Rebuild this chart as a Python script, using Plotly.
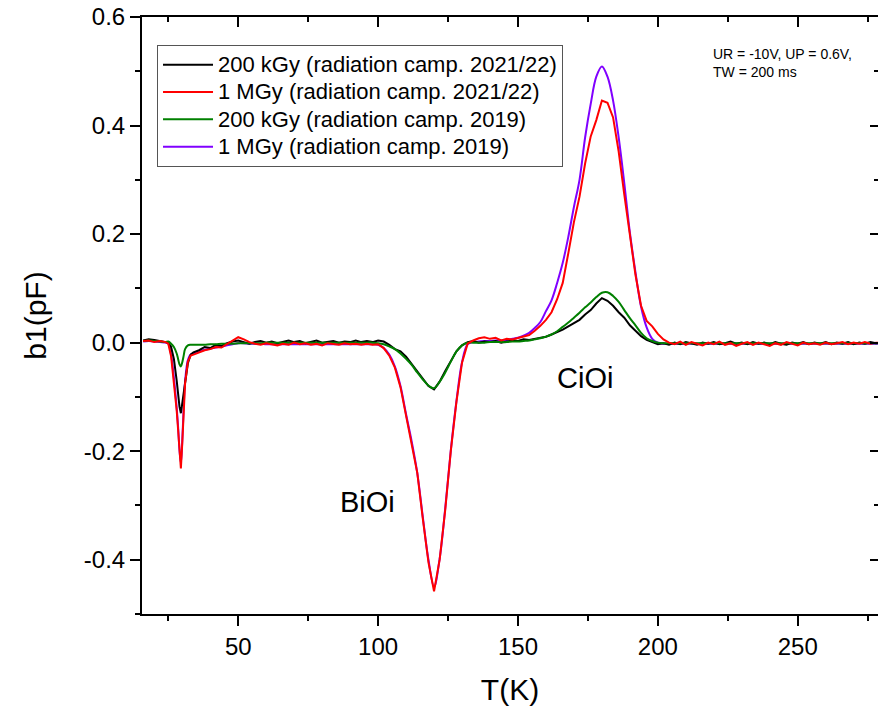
import plotly.graph_objects as go

# Temperature grid (K)
T = [16, 18, 20, 22, 24,
     25, 26, 27, 28, 28.5, 29, 29.5, 30, 30.5, 31, 32, 33, 34] + list(range(36, 281, 2))

# b1 (pF) values
B200K_2122 = [
    0.004, 0.006, 0.005, 0.003, 0.002,
    0.000, -0.008, -0.030, -0.070, -0.095, -0.118, -0.130, -0.112, -0.095, -0.070, -0.038, -0.022, -0.018,
    -0.014, -0.008, -0.010, -0.004, -0.006, -0.001, 0.002, 0.004, 0.001, -0.002,
    0.001, 0.003, 0.000, 0.002, -0.001, 0.001, 0.004, 0.001, 0.003, -0.001,
    0.002, 0.004, 0.000, 0.002, 0.003, 0.000, 0.002, 0.001, 0.004, 0.001,
    0.003, 0.001, 0.004, 0.002, -0.004, -0.012, -0.016, -0.026, -0.040, -0.054,
    -0.068, -0.080, -0.086, -0.072, -0.052, -0.033, -0.016, -0.005, 0.001, 0.003,
    0.000, 0.002, 0.001, 0.003, 0.000, 0.002, 0.004, 0.003, 0.006, 0.005,
    0.007, 0.009, 0.011, 0.015, 0.019, 0.024, 0.030, 0.036, 0.042, 0.052,
    0.060, 0.072, 0.082, 0.077, 0.068, 0.056, 0.046, 0.032, 0.022, 0.012,
    0.005, 0.001, -0.003, -0.001, -0.004, 0.000, -0.003, 0.001, -0.002, -0.004,
    0.000, -0.002, 0.001, -0.003, -0.001, 0.002, -0.002, 0.000, -0.003, 0.001,
    -0.002, 0.000, -0.003, 0.001, -0.002, -0.004, 0.000, -0.002, 0.001, -0.003,
    0.000, -0.002, 0.001, -0.003, 0.000, -0.002, 0.001, -0.003, 0.000, -0.002,
    0.001, -0.001, 0.000,
]

B1M_2122 = [
    0.003, 0.004, 0.001, 0.003, 0.001,
    -0.002, -0.025, -0.070, -0.125, -0.160, -0.205, -0.232, -0.185, -0.125, -0.075, -0.035, -0.024, -0.022,
    -0.018, -0.014, -0.012, -0.008, -0.009, -0.003, 0.004, 0.010, 0.006, 0.001,
    -0.002, -0.004, -0.001, -0.003, -0.005, -0.002, -0.004, 0.000, -0.003, -0.001,
    -0.004, -0.002, -0.005, -0.001, -0.003, -0.004, -0.001, -0.003, -0.002, -0.004,
    -0.002, -0.004, -0.003, -0.010, -0.024, -0.046, -0.082, -0.135, -0.182, -0.240,
    -0.325, -0.405, -0.458, -0.400, -0.308, -0.199, -0.109, -0.037, -0.002, 0.004,
    0.008, 0.010, 0.007, 0.009, 0.004, 0.007, 0.006, 0.009, 0.011, 0.014,
    0.022, 0.031, 0.042, 0.056, 0.080, 0.110, 0.165, 0.222, 0.269, 0.330,
    0.380, 0.410, 0.446, 0.442, 0.415, 0.352, 0.273, 0.195, 0.125, 0.068,
    0.040, 0.030, 0.016, 0.006, 0.000, -0.003, 0.002, -0.004, 0.001, -0.002,
    -0.005, 0.000, -0.003, 0.002, -0.004, -0.001, -0.006, -0.002, 0.001, -0.004,
    0.000, -0.003, -0.006, -0.001, -0.004, 0.001, -0.002, -0.005, 0.000, -0.003,
    -0.001, -0.004, 0.000, -0.003, -0.001, 0.001, -0.003, 0.000, -0.002, 0.001,
    -0.002, 0.000, -0.001,
]

B200K_2019 = [
    0.003, 0.004, 0.003, 0.002, 0.001,
    0.002, -0.002, -0.008, -0.020, -0.030, -0.040, -0.044, -0.036, -0.024, -0.012, -0.005, -0.004, -0.004,
    -0.004, -0.004, -0.003, -0.003, -0.002, -0.002, -0.002, -0.001, -0.001, -0.001,
    -0.001, -0.001, 0.000, 0.000, 0.000, 0.000, 0.000, 0.000, 0.000, 0.000,
    0.000, 0.000, 0.000, 0.000, 0.000, 0.000, 0.000, 0.000, 0.000, 0.000,
    0.000, 0.000, -0.001, -0.003, -0.007, -0.012, -0.020, -0.030, -0.041, -0.055,
    -0.068, -0.079, -0.084, -0.072, -0.055, -0.035, -0.016, -0.005, 0.000, 0.000,
    0.000, 0.000, 0.001, 0.001, 0.001, 0.001, 0.002, 0.002, 0.003, 0.004,
    0.006, 0.008, 0.011, 0.015, 0.021, 0.029, 0.037, 0.046, 0.055, 0.065,
    0.074, 0.084, 0.092, 0.093, 0.086, 0.075, 0.060, 0.045, 0.032, 0.018,
    0.008, 0.003, 0.000, -0.001, -0.001, -0.001, -0.001, -0.001, -0.001, -0.001,
    -0.001, -0.001, -0.001, -0.001, -0.001, -0.001, -0.001, -0.001, -0.001, -0.001,
    -0.001, -0.001, -0.001, -0.001, -0.001, -0.001, -0.001, -0.001, -0.001, -0.001,
    -0.001, -0.001, -0.001, -0.001, -0.001, -0.001, -0.001, -0.001, -0.001, -0.001,
    -0.001, -0.001, -0.001,
]

B1M_2019 = [
    0.002, 0.003, 0.002, 0.001, 0.000,
    -0.002, -0.022, -0.065, -0.120, -0.155, -0.198, -0.222, -0.180, -0.120, -0.072, -0.032, -0.022, -0.020,
    -0.016, -0.013, -0.011, -0.009, -0.007, -0.005, -0.003, -0.001, -0.001, -0.002,
    -0.002, -0.002, -0.003, -0.003, -0.003, -0.003, -0.003, -0.003, -0.003, -0.003,
    -0.003, -0.003, -0.003, -0.003, -0.003, -0.003, -0.003, -0.003, -0.003, -0.003,
    -0.003, -0.003, -0.004, -0.010, -0.022, -0.044, -0.080, -0.132, -0.182, -0.240,
    -0.322, -0.400, -0.450, -0.398, -0.305, -0.198, -0.108, -0.036, -0.003, 0.001,
    0.002, 0.003, 0.003, 0.004, 0.004, 0.005, 0.007, 0.009, 0.013, 0.018,
    0.027, 0.038, 0.058, 0.078, 0.110, 0.147, 0.195, 0.250, 0.300, 0.378,
    0.440, 0.490, 0.509, 0.490, 0.446, 0.378, 0.294, 0.203, 0.130, 0.066,
    0.028, 0.007, 0.000, -0.002, -0.002, -0.002, -0.002, -0.002, -0.002, -0.002,
    -0.002, -0.002, -0.002, -0.002, -0.002, -0.002, -0.002, -0.002, -0.002, -0.002,
    -0.002, -0.002, -0.002, -0.002, -0.002, -0.002, -0.002, -0.002, -0.002, -0.002,
    -0.002, -0.002, -0.002, -0.002, -0.002, -0.002, -0.002, -0.002, -0.002, -0.002,
    -0.002, -0.002, -0.002,
]

for s in (B200K_2122, B1M_2122, B200K_2019, B1M_2019):
    assert len(s) == len(T), (len(s), len(T))

NAMES = ["200 kGy (radiation camp. 2021/22)", "1 MGy (radiation camp. 2021/22)",
         "200 kGy (radiation camp. 2019)", "1 MGy (radiation camp. 2019)"]
COLORS = ["#000000", "#ff0000", "#008000", "#8000ff"]

X_TICKS = [50, 100, 150, 200, 250]
Y_TICKS = [-0.4, -0.2, 0.0, 0.2, 0.4, 0.6]
Y_TICKTEXT = ["-0.4", "-0.2", "0.0", "0.2", "0.4", "0.6"]
X_RANGE = [15.6, 278.7]
Y_RANGE = [-0.5, 0.6]

FONT = "Liberation Sans, Arial, sans-serif"

fig = go.Figure()
# draw order: purple, black, green, red (legend order via legendrank)
order = [(3, B1M_2019, "spline"), (0, B200K_2122, "linear"),
         (2, B200K_2019, "spline"), (1, B1M_2122, "linear")]
for idx, vals, shape in order:
    fig.add_trace(go.Scatter(
        x=T, y=vals, mode="lines",
        name='<span style="font-size:22px">' + NAMES[idx] + "</span>",
        line=dict(color=COLORS[idx], width=2, shape=shape),
        legendrank=idx + 1,
    ))
# dummy trace for the mirrored top/right axes
fig.add_trace(go.Scatter(x=[], y=[], xaxis="x2", yaxis="y2", showlegend=False))

axis_common = dict(showgrid=False, zeroline=False, linecolor="black", linewidth=2,
                   tickcolor="black", tickwidth=2, automargin=False)

fig.update_layout(
    width=878, height=711, autosize=False,
    margin=dict(l=142, r=0, t=17, b=97, pad=0, autoexpand=False),
    paper_bgcolor="white", plot_bgcolor="white",
    font=dict(family=FONT, color="black"),
    showlegend=True,
    legend=dict(x=0.0204, y=0.953, xanchor="left", yanchor="top",
                bordercolor="#555555", borderwidth=1, bgcolor="white",
                font=dict(size=18.7, family=FONT), itemwidth=50,
                tracegroupgap=0),
    xaxis=dict(range=X_RANGE, tickmode="array", tickvals=X_TICKS,
               ticks="outside", ticklen=10, showline=True,
               tickfont=dict(size=24),
               minor=dict(ticks="outside", ticklen=5, dtick=25, tick0=0,
                          tickcolor="black", tickwidth=2),
               title=dict(text="T(K)", font=dict(size=30), standoff=20),
               **axis_common),
    yaxis=dict(range=Y_RANGE, tickmode="array", tickvals=Y_TICKS, ticktext=Y_TICKTEXT,
               ticks="outside", ticklen=10, showline=True,
               tickfont=dict(size=24),
               minor=dict(ticks="outside", ticklen=5, dtick=0.1, tick0=0,
                          tickcolor="black", tickwidth=2),
               title=dict(text="b1(pF)", font=dict(size=30), standoff=28),
               **axis_common),
    xaxis2=dict(range=X_RANGE, overlaying="x", side="top", anchor="y2",
                tickmode="array", tickvals=X_TICKS, ticks="inside", ticklen=10,
                showticklabels=False, showline=True,
                minor=dict(ticks="inside", ticklen=5, dtick=25, tick0=0,
                           tickcolor="black", tickwidth=2),
                **axis_common),
    yaxis2=dict(range=Y_RANGE, overlaying="y", side="right", anchor="x2",
                tickmode="array", tickvals=Y_TICKS, ticks="inside", ticklen=8,
                showticklabels=False, showline=False,
                minor=dict(ticks="inside", ticklen=4, dtick=0.1, tick0=0,
                           tickcolor="black", tickwidth=2),
                showgrid=False, zeroline=False, tickcolor="black", tickwidth=2,
                automargin=False),
)

fig.add_annotation(x=96.3, y=-0.293, xref="x", yref="y", text="BiOi",
                   showarrow=False, font=dict(size=29, family=FONT, color="black"))
fig.add_annotation(x=173.8, y=-0.065, xref="x", yref="y", text="CiOi",
                   showarrow=False, font=dict(size=29, family=FONT, color="black"))
fig.add_annotation(x=(711 - 142) / 736, y=(614 - 44) / 597, xref="paper", yref="paper",
                   xanchor="left", yanchor="top", align="left",
                   text="UR = -10V, UP = 0.6V,<br>TW = 200 ms",
                   showarrow=False, font=dict(size=14, family=FONT, color="black"))

fig.write_html("out.html", config={"displayModeBar": False},
               post_script="document.body.style.margin='0';document.body.style.overflow='hidden';")
